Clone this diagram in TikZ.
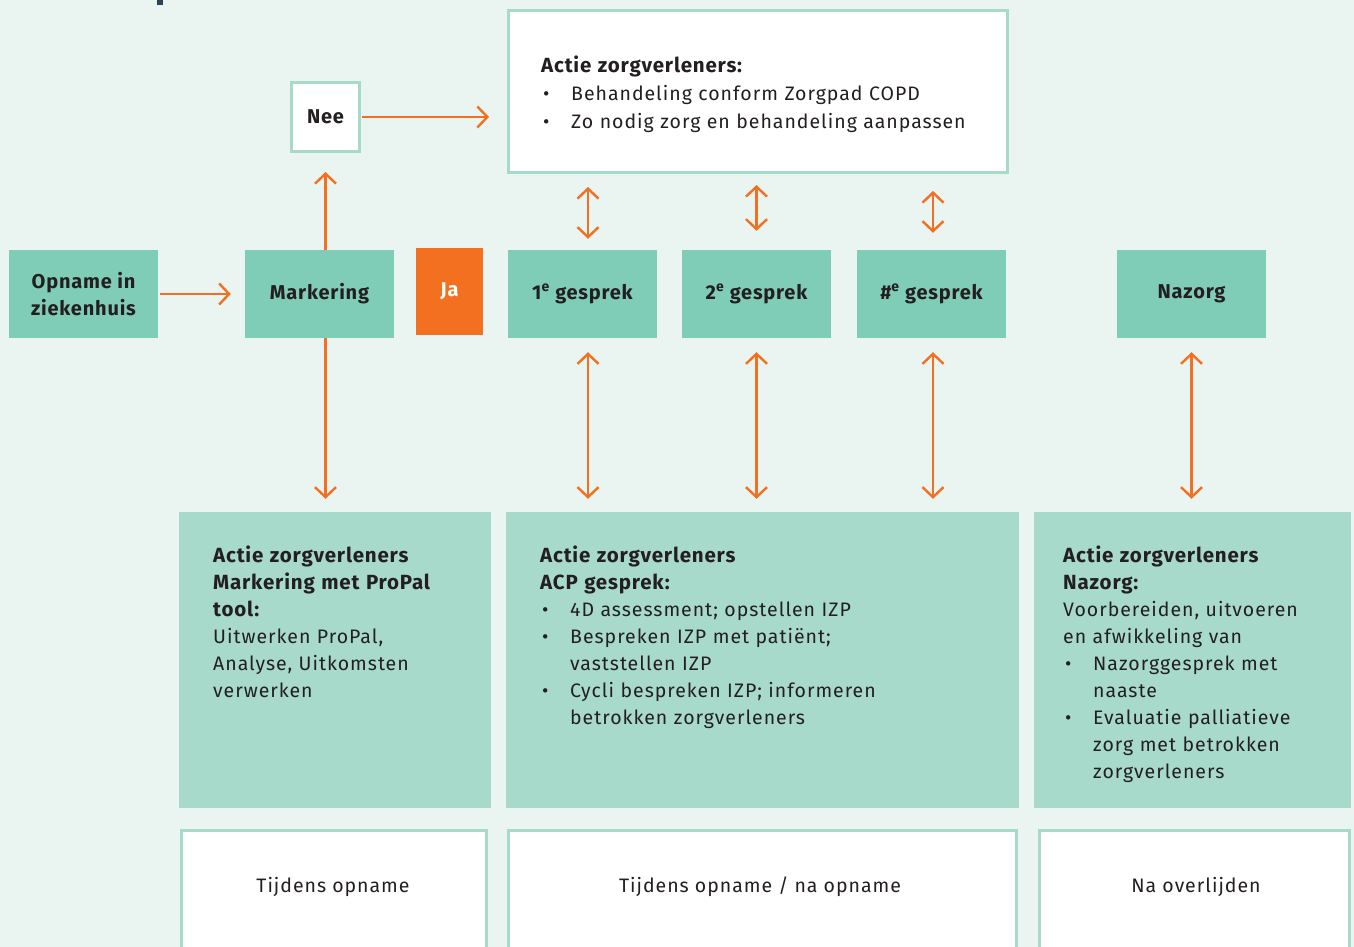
\documentclass[tikz,border=0pt]{standalone}
\usepackage{fontspec}
\setmainfont{Fira Sans}[LetterSpace=5, BoldFeatures={LetterSpace=4}]
\usetikzlibrary{arrows.meta}
\definecolor{bgc}{RGB}{234,244,240}
\definecolor{mintd}{RGB}{127,205,183}
\definecolor{mintl}{RGB}{167,218,202}
\definecolor{orng}{RGB}{243,112,33}
\definecolor{txt}{RGB}{35,31,32}
\definecolor{slate}{RGB}{46,68,83}
\newcommand{\bl}{\hspace*{2pt}\makebox[28pt][l]{\textbullet}}
\newcommand{\ct}{\hspace*{30pt}}
\newcommand{\bft}[1]{{\fontsize{20.5}{27}\selectfont\bfseries #1}}
\tikzset{
  stepbox/.style={fill=mintd, minimum width=149pt, minimum height=88pt, inner sep=0pt, text=txt,
    font=\fontsize{20}{27}\selectfont\bfseries, align=center},
  actbox/.style={fill=mintl, minimum height=296pt, inner sep=0pt},
  whitebox/.style={fill=white, draw=mintl, line width=3pt, inner sep=0pt},
  txtblock/.style={anchor=north west, inner sep=0pt, text width=480pt, align=left, text=txt,
    font=\fontsize{19.5}{27}\selectfont},
  arr/.style={draw=orng, line width=2.4pt, -{Straight Barb[length=10pt,width=21pt,line width=2.4pt]}},
  darr/.style={draw=orng, line width=2.4pt, {Straight Barb[length=10pt,width=21pt,line width=2.4pt]}-{Straight Barb[length=10pt,width=21pt,line width=2.4pt]}},
}
\begin{document}
\begin{tikzpicture}[x=1pt,y=-1pt]
\useasboundingbox (0,0) rectangle (1354,947);
\clip (0,0) rectangle (1354,947);
\fill[bgc] (0,0) rectangle (1354,947);
\fill[slate] (157,0) rectangle (163,5);

% top action box
\node[whitebox, minimum width=499pt, minimum height=162pt] (top) at (758,91.5) {};
\node[txtblock, font=\fontsize{19.5}{28}\selectfont] (toptxt) at (541,52.4) {\strut\bft{Actie zorgverleners:}\\
\bl Behandeling conform Zorgpad COPD\\
\bl Zo nodig zorg en behandeling aanpassen};

% Nee
\node[whitebox, minimum width=68pt, minimum height=69pt, text=txt, font=\fontsize{20}{24}\selectfont\bfseries] (nee) at (325.5,117) {Nee};

% step row
\node[stepbox] (opname) at (83.5,294) {Opname in\\ziekenhuis};
\node[stepbox] (mark) at (319.5,294) {Markering};
\node[fill=orng, minimum width=67pt, minimum height=87pt, inner sep=0pt, text=white, font=\fontsize{20}{24}\selectfont\bfseries] (ja) at (449.5,291.5) {Ja};
\node[stepbox] (g1) at (582.5,294) {1\textsuperscript{e} gesprek};
\node[stepbox] (g2) at (756.5,294) {2\textsuperscript{e} gesprek};
\node[stepbox] (g3) at (931.5,294) {\#\textsuperscript{e} gesprek};
\node[stepbox] (naz) at (1191.5,294) {Nazorg};

% action boxes
\node[actbox, minimum width=312pt] (b1) at (335,660) {};
\node[actbox, minimum width=513pt] (b2) at (762.5,660) {};
\node[actbox, minimum width=317pt] (b3) at (1192.5,660) {};

\node[txtblock] (t1) at (213,543.1) {\strut\bft{Actie zorgverleners}\\
\bft{Markering met ProPal}\\
\bft{tool:}\\
Uitwerken ProPal,\\
Analyse, Uitkomsten\\
verwerken};

\node[txtblock] (t2) at (540,543.1) {\strut\bft{Actie zorgverleners}\\
\bft{ACP gesprek:}\\
\bl 4D assessment; opstellen IZP\\
\bl Bespreken IZP met patiënt;\\
\ct vaststellen IZP\\
\bl Cycli bespreken IZP; informeren\\
\ct betrokken zorgverleners};

\node[txtblock] (t3) at (1063,543.1) {\strut\bft{Actie zorgverleners}\\
\bft{Nazorg:}\\
Voorbereiden, uitvoeren\\
en afwikkeling van\\
\bl Nazorggesprek met\\
\ct naaste\\
\bl Evaluatie palliatieve\\
\ct zorg met betrokken\\
\ct zorgverleners};

% bottom period boxes
\node[whitebox, minimum width=305pt, minimum height=140pt] (w1) at (334,900) {};
\node[whitebox, minimum width=508pt, minimum height=140pt] (w2) at (762.5,900) {};
\node[whitebox, minimum width=310pt, minimum height=140pt] (w3) at (1194.5,900) {};
\node[text=txt, font=\fontsize{19.5}{24}\selectfont, anchor=base] (l1) at (333,892) {Tijdens opname};
\node[text=txt, font=\fontsize{19.5}{24}\selectfont, anchor=base] (l2) at (760,892) {Tijdens opname / na opname};
\node[text=txt, font=\fontsize{19.5}{24}\selectfont, anchor=base] (l3) at (1196,892) {Na overlijden};

% connectors
\draw[arr] ([xshift=2pt]opname.east) -- ([xshift=-14pt]mark.west);
\draw[arr] (mark.north -| nee.south) -- ([yshift=-19pt]nee.south);
\draw[arr] ([xshift=1pt]nee.east) -- ([xshift=-18pt]top.west |- nee.east);
\draw[arr] (mark.south -| nee.south) -- ([yshift=13pt]b1.north -| nee.south);

\draw[darr] ([xshift=5.5pt,yshift=-13pt]top.south -| g1.north) -- ([xshift=5.5pt,yshift=11pt]g1.north);
\draw[darr] ([yshift=-11pt]top.south -| g2.north) -- ([yshift=19pt]g2.north);
\draw[darr] ([xshift=1.5pt,yshift=-17pt]top.south -| g3.north) -- ([xshift=1.5pt,yshift=17pt]g3.north);

\draw[darr] ([xshift=5.5pt,yshift=-14pt]g1.south) -- ([xshift=5.5pt,yshift=13pt]b2.north -| g1.south);
\draw[darr] ([yshift=-14pt]g2.south) -- ([yshift=13pt]b2.north -| g2.south);
\draw[darr] ([xshift=1.5pt,yshift=-14pt]g3.south) -- ([xshift=1.5pt,yshift=13pt]b2.north -| g3.south);
\draw[darr] ([yshift=-14pt]naz.south) -- ([yshift=13pt]b3.north -| naz.south);
\end{tikzpicture}
\end{document}
